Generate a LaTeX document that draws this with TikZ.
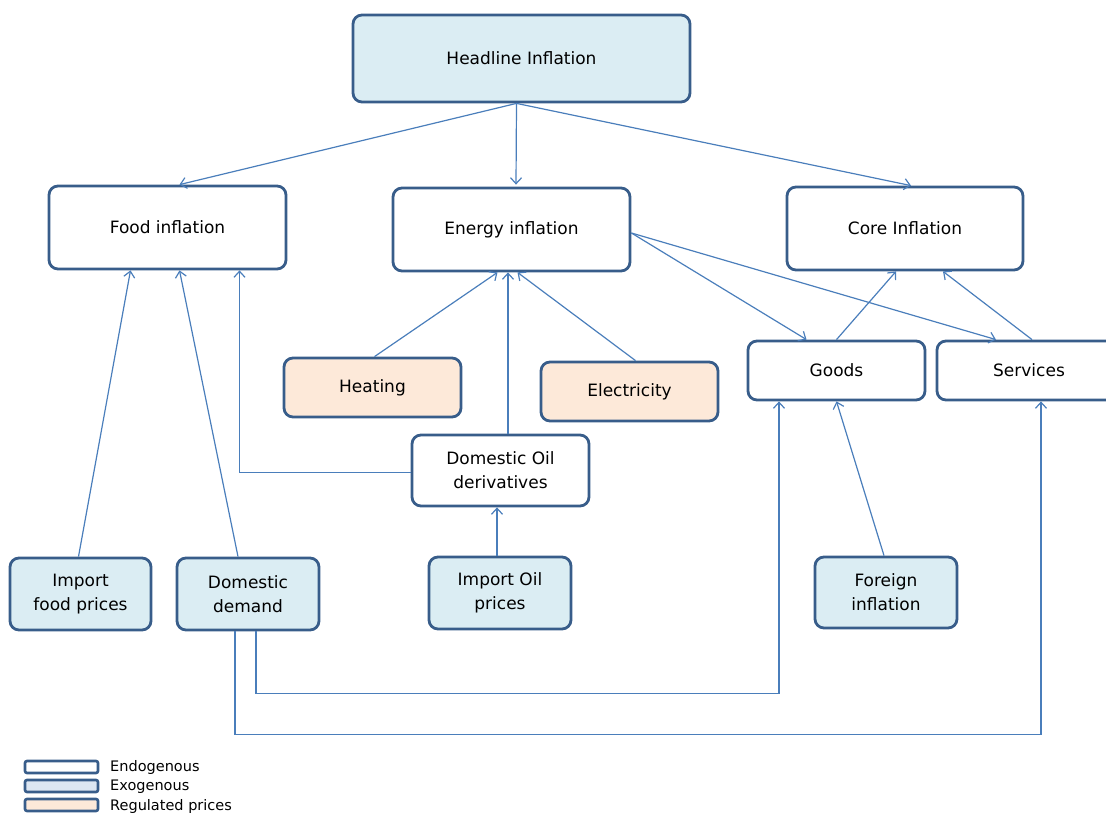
\documentclass[tikz,border=0pt]{standalone}
\usepackage{fontspec}
\setmainfont{DejaVu Sans}
\usetikzlibrary{arrows.meta}
\definecolor{boxline}{RGB}{56,93,138}
\definecolor{exofill}{RGB}{219,237,243}
\definecolor{keyfill}{RGB}{220,230,242}
\definecolor{regfill}{RGB}{253,233,217}
\definecolor{linkcol}{RGB}{74,126,187}
\tikzset{
  endo-node/.style = {rectangle, rounded corners=9pt, draw=boxline, line width=2.8pt,
                      fill=white, align=center, inner sep=0pt},
  exo-node/.style  = {endo-node, fill=exofill},
  reg-node/.style  = {endo-node, fill=regfill},
  link/.style      = {draw=linkcol, line width=1.2pt, -{Straight Barb[length=6pt,width=11pt]}},
  key-box/.style   = {rectangle, rounded corners=2pt, draw=boxline, line width=2.6pt,
                      minimum width=73pt, minimum height=12pt, inner sep=0pt},
  key-text/.style  = {anchor=west, font=\fontsize{14.5}{14.5}\selectfont, inner sep=0pt},
}

\begin{document}
\begin{tikzpicture}
  [
    x = 1pt, y = -1pt,
    every node/.style = {font=\fontsize{17}{24}\selectfont}
  ]
  \useasboundingbox (0,0) rectangle (1106,813);

  % top level
  \node [exo-node, minimum width=337pt, minimum height=87pt] (head) at (521.5,58.5) {Headline Inflation};

  % components
  \node [endo-node, minimum width=237pt, minimum height=83pt] (food) at (167.5,227.5) {Food inflation};
  \node [endo-node, minimum width=237pt, minimum height=83pt] (energy) at (511.5,229.5) {Energy inflation};
  \node [endo-node, minimum width=236pt, minimum height=83pt] (core) at (905,228.5) {Core Inflation};

  \node [reg-node, minimum width=177pt, minimum height=59pt] (heat) at (372.5,387.5) {Heating};
  \node [reg-node, minimum width=177pt, minimum height=59pt] (elec) at (629.5,391.5) {Electricity};
  \node [endo-node, minimum width=177pt, minimum height=59pt] (goods) at (836.5,370.5) {Goods};
  \node [endo-node, minimum width=184pt, minimum height=59pt] (serv) at (1029,370.5) {Services};
  \node [endo-node, minimum width=177pt, minimum height=71pt] (oil) at (500.5,470.5) {Domestic Oil\\derivatives};

  % exogenous drivers
  \node [exo-node, minimum width=141pt, minimum height=72pt] (impfood) at (80.5,594) {Import\\food prices};
  \node [exo-node, minimum width=142pt, minimum height=72pt] (demand) at (248,594) {Domestic\\demand};
  \node [exo-node, minimum width=142pt, minimum height=72pt] (impoil) at (500,593) {Import Oil\\prices};
  \node [exo-node, minimum width=142pt, minimum height=71pt] (foreign) at (886,592.5) {Foreign\\inflation};

  % headline split
  \draw [link] ([xshift=-5pt]head.south) -- ([xshift=12pt]food.north);
  \draw [link] ([xshift=-5pt]head.south) -- ([xshift=4.5pt,yshift=2pt]energy.north);
  \draw [link] ([xshift=-5pt]head.south) -- ([xshift=6pt]core.north);

  % food
  \draw [link] ([xshift=-2pt]impfood.north) -- ([xshift=-37pt]food.south);
  \draw [link] ([xshift=-10pt]demand.north) -- ([xshift=12pt]food.south);
  \draw [link] ([yshift=-2pt]oil.west) -| ([xshift=72pt]food.south);

  % energy
  \draw [link] ([xshift=2pt]heat.north) -- ([xshift=-14pt]energy.south);
  \draw [link] ([xshift=7.5pt]oil.north) -- ([xshift=-3.5pt]energy.south);
  \draw [link] ([xshift=6pt]elec.north) -- ([xshift=6pt]energy.south);
  \draw [link] ([xshift=-3pt]impoil.north) -- ([xshift=-3.5pt]oil.south);

  % core
  \draw [link] ([yshift=-3.5pt]energy.east) -- ([xshift=-30pt]goods.north);
  \draw [link] ([yshift=-3.5pt]energy.east) -- ([xshift=-33pt]serv.north);
  \draw [link] (goods.north) -- ([xshift=-9pt]core.south);
  \draw [link] ([xshift=3pt]serv.north) -- ([xshift=38pt]core.south);
  \draw [link] ([xshift=-2pt]foreign.north) -- (goods.south);
  \draw [link] ([xshift=8pt]demand.south) -- ++(0,62) -| ([xshift=-57.5pt]goods.south);
  \draw [link] ([xshift=-13pt]demand.south) -- ++(0,103) -| ([xshift=12pt]serv.south);

  % legend
  \node [key-box, fill=white] (k1) at (61.5,767) {};
  \node [key-box, fill=keyfill] (k2) at (61.5,786) {};
  \node [key-box, fill=regfill] (k3) at (61.5,805) {};
  \node [key-text] at (110,767) {Endogenous};
  \node [key-text] at (110,787) {Exogenous};
  \node [key-text] at (110,806) {Regulated prices};
\end{tikzpicture}
\end{document}
